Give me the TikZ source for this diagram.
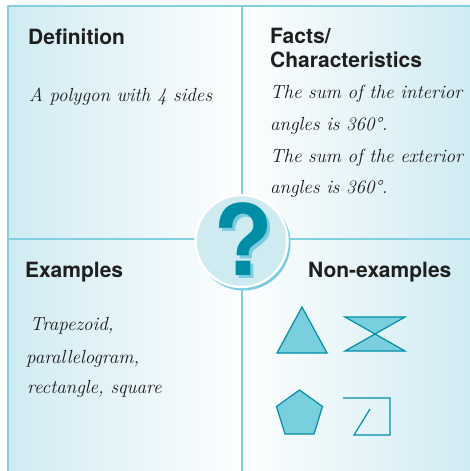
\documentclass[tikz,border=0pt]{standalone}
\usepackage{fontspec}
\newfontfamily\headfont{TeX Gyre Heros}
\tikzset{x=1pt,y=-1pt}
\definecolor{lineblue}{RGB}{128,208,224}
\definecolor{panelblue}{RGB}{208,235,242}
\definecolor{qteal}{RGB}{0,142,166}
\definecolor{qshadow}{RGB}{122,204,222}
\definecolor{shapefill}{RGB}{122,207,222}
\definecolor{circfill}{RGB}{206,235,242}
\tikzset{
  heading/.style={anchor=base west, inner sep=0pt, font=\headfont\bfseries\fontsize{21}{25}\selectfont, text=black!88, align=left},
  script/.style={anchor=base west, inner sep=0pt, font=\itshape\fontsize{19}{32}\selectfont, text=black!90, align=left},
  divider/.style={draw=lineblue, line width=2.6pt},
  polyshape/.style={draw=qteal, fill=shapefill, line width=1.2pt, line join=miter},
  openshape/.style={draw=qteal, line width=1.2pt, line join=miter}
}
\begin{document}
\begin{tikzpicture}
\useasboundingbox (0,0) rectangle (470,471);
\fill[white] (0,0) rectangle (470,471);
% panels
\shade[left color=panelblue, right color=white!96!panelblue] (8,6) rectangle (242,239);
\shade[left color=white!96!panelblue, right color=panelblue] (242,6) rectangle (470,239);
\shade[left color=panelblue, right color=white!96!panelblue] (8,239) rectangle (242,471);
\shade[left color=white!96!panelblue, right color=panelblue] (242,239) rectangle (470,471);
% frame and dividers
\coordinate (tl) at (8,6);
\coordinate (tr) at (470,6);
\coordinate (bl) at (8,471);
\coordinate (vt) at (242,6);
\coordinate (vb) at (242,471);
\coordinate (hl) at (8,239);
\coordinate (hr) at (470,239);
\draw[divider] (tr) -- (tl) -- (bl);
\draw[divider] (vt) -- (vb);
\draw[divider] (hl) -- (hr);
% centre circle
\fill[qshadow] (243.5,243.5) circle (47);
\draw[white, line width=2.5pt, fill=circfill] (241.5,241) circle (46);
\node[inner sep=0pt, font=\headfont\bfseries\fontsize{98}{98}\selectfont] (q) at (243.5,240.5)
  {\rlap{\hspace{3pt}\raisebox{-3pt}{\textcolor{qshadow}{?}}}\textcolor{qteal}{?}};
% headings
\node[heading] (def) at (28,44) {Definition};
\node[heading] (facts) at (270,43) {Facts/};
\node[heading] (char) at (270,67) {Characteristics};
\node[heading] (ex) at (25,277) {Examples};
\node[heading] (nonex) at (308,277) {Non-examples};
% handwritten texts
\node[script] (deftext) at (29,101) {A polygon with 4 sides};
\node[script] (f1) at (270,98) {The sum of the interior};
\node[script] (f2) at (270,130) {angles is 360°.};
\node[script] (f3) at (270,162) {The sum of the exterior};
\node[script] (f4) at (270,193) {angles is 360°.};
\node[script] (e1) at (30,330) {Trapezoid,};
\node[script] (e2) at (26,363) {parallelogram,};
\node[script] (e3) at (27,393) {rectangle, square};
% non-example shapes
\draw[polyshape] (302,307) -- (327,353) -- (277,353) -- cycle;
\draw[polyshape] (345,317) -- (405,317) -- (375,334) -- cycle;
\draw[polyshape] (345,351) -- (405,351) -- (375,334) -- cycle;
\draw[polyshape] (299.5,390) -- (322.5,406.5) -- (314,434) -- (285,434) -- (276.5,406.5) -- cycle;
\draw[openshape] (343,398) -- (390,398) -- (390,435) -- (354,435) -- (370,409);
\end{tikzpicture}
\end{document}
